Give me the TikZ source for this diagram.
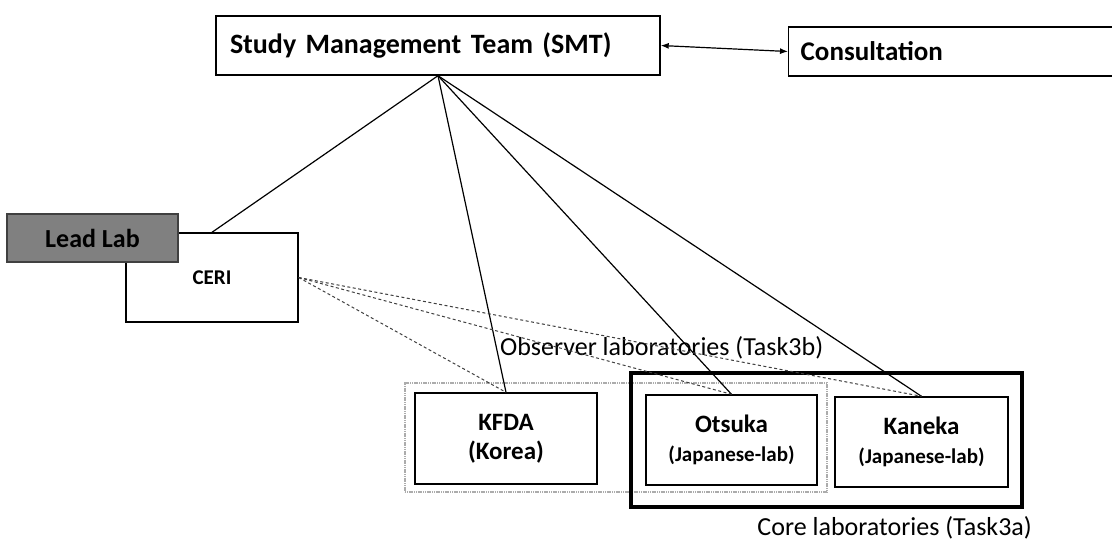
\documentclass[tikz,border=0pt]{standalone}
\usepackage{fontspec}
\setmainfont{Carlito}
\usetikzlibrary{arrows.meta}
\newcommand\labsubfont{\bfseries\fontsize{21}{25}\selectfont}
\tikzset{
  box/.style={draw=black, line width=1.4pt, rectangle, inner sep=0pt, font=\bfseries\fontsize{25}{29}\selectfont, align=center},
  leadbox/.style={draw=black!75, line width=1.2pt, fill=black!50, rectangle, inner sep=0pt, font=\bfseries\fontsize{26}{30}\selectfont, text=black},
  obsbox/.style={draw=gray!65, line width=2.4pt, dash pattern=on 1.2pt off 0.6pt, rectangle, inner sep=0pt},
  corebox/.style={draw=black, line width=3.2pt, rectangle, inner sep=0pt},
  link/.style={draw=black, line width=1.2pt},
  dlink/.style={draw=black!75, line width=1pt, dash pattern=on 3pt off 2.5pt},
  grouplabel/.style={font=\fontsize{26}{30}\selectfont, inner sep=0pt},
}
\begin{document}
\begin{tikzpicture}[x=1pt,y=-1pt]
\useasboundingbox (0,0) rectangle (1112,541);
% top boxes
\node[box, font=\bfseries\fontsize{28}{32}\selectfont, minimum width=444pt, minimum height=59pt, text width=416pt, align=left] (smt) at (438,45.5) {Study Management\hspace{0.35em}Team (SMT)};
\node[box, font=\bfseries\fontsize{27}{31}\selectfont, anchor=west, minimum width=400pt, minimum height=49pt, text width=376pt, align=left] (cons) at (788,51.5) {Consultation};
\draw[link, {Latex[length=8pt,width=6pt]}-{Latex[length=8pt,width=6pt]}] (smt.east) -- (cons.west);
% groups
\node[obsbox, minimum width=422pt, minimum height=109pt] (obs) at (616,437.5) {};
\node[corebox, minimum width=391pt, minimum height=134pt] (core) at (826.5,440) {};
% labs
\node[box, minimum width=172pt, minimum height=89pt, font=\bfseries\fontsize{21}{25}\selectfont] (ceri) at (212,277.5) {CERI};
\node[leadbox, minimum width=171pt, minimum height=48pt] (lead) at (92.5,238) {Lead Lab};
\node[box, minimum width=182pt, minimum height=91pt] (kfda) at (506,438.5) {KFDA\\(Korea)};
\node[box, minimum width=171pt, minimum height=90pt] (otsuka) at (731.5,440) {Otsuka\\{\labsubfont (Japanese-lab)}};
\node[box, minimum width=173pt, minimum height=90pt] (kaneka) at (921.5,442) {Kaneka\\{\labsubfont (Japanese-lab)}};
% group labels
\node[grouplabel, anchor=base west] (obslabel) at (500,355) {Observer laboratories (Task3b)};
\node[grouplabel, anchor=base east] (corelabel) at (1032,535) {Core laboratories (Task3a)};
% connectors
\draw[link] (smt.south) -- (ceri.north);
\draw[link] (smt.south) -- (kfda.north);
\draw[link] (smt.south) -- (otsuka.north);
\draw[link] (smt.south) -- (kaneka.north);
\draw[dlink] (ceri.east) -- (kfda.north);
\draw[dlink] (ceri.east) -- (otsuka.north);
\draw[dlink] (ceri.east) -- (kaneka.north);
\end{tikzpicture}
\end{document}
